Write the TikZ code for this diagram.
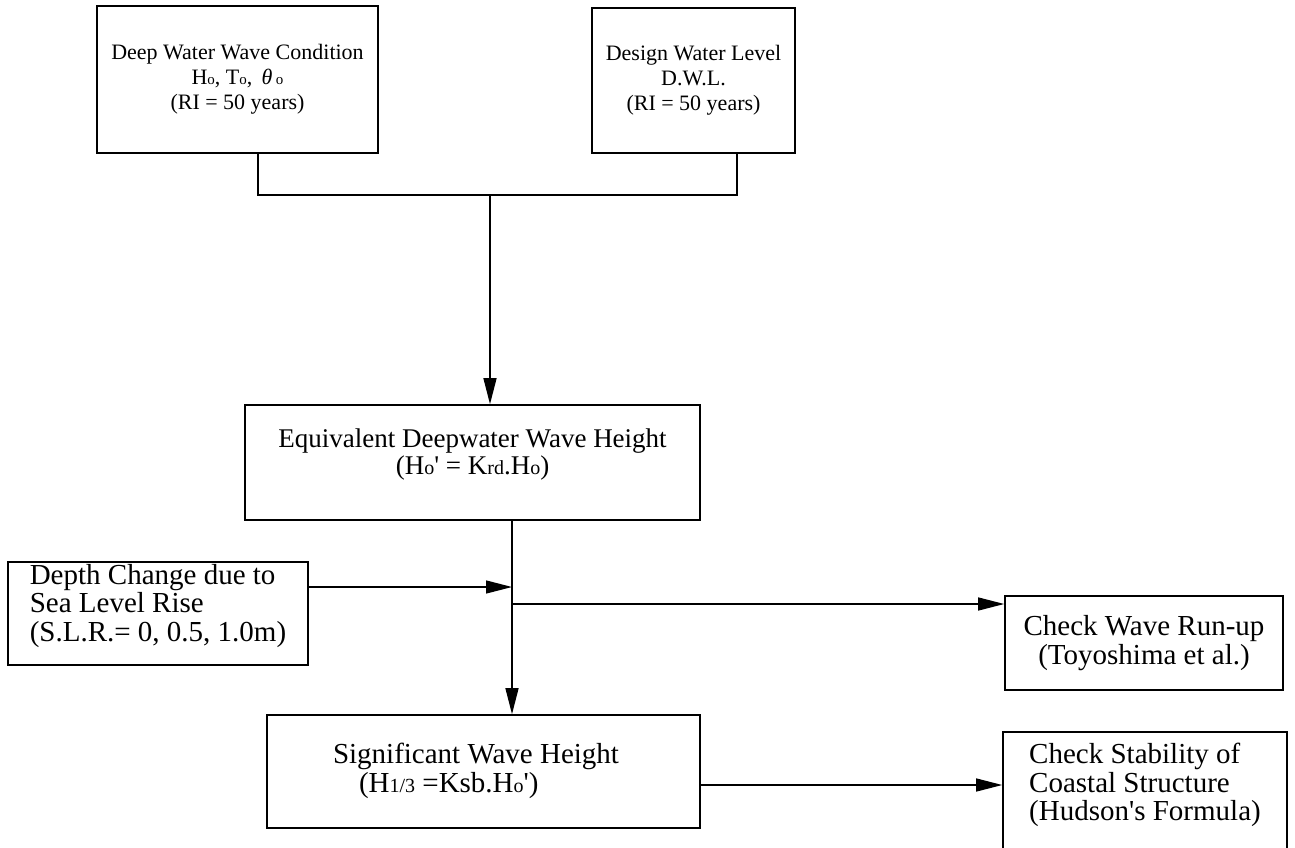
\documentclass[tikz,border=0pt]{standalone}
\usepackage{fontspec}
\setmainfont{Liberation Serif}[Ligatures=TeXOff]
\usetikzlibrary{arrows.meta,calc}
\newcommand\smt[1]{{\fontsize{15}{15}\selectfont #1}}
\newcommand\smb[1]{{\fontsize{20}{20}\selectfont #1}}
\begin{document}
\begin{tikzpicture}[x=1pt,y=-1pt,
  box/.style={draw,line width=1.6pt,rectangle,inner sep=0pt,align=center},
  txt/.style={inner sep=0pt},
  topfont/.style={font=\fontsize{22}{25}\selectfont},
  lowfont/.style={font=\fontsize{29}{28.5}\selectfont},
  conn/.style={line width=1.3pt},
  arr/.style={conn,-{Triangle[length=26pt,width=13pt]}}]
\useasboundingbox (0,0) rectangle (1295,848);
\clip (0,0) rectangle (1295,848);
\node[box,topfont,minimum width=281pt,minimum height=147pt] (b1) at (237.5,79.5)
  {Deep Water Wave Condition\\ H\smt{o}, T\smt{o}, \,{\itshape θ}\,\smt{o}\\ (RI = 50 years)};
\node[box,topfont,minimum width=203pt,minimum height=145pt] (b2) at (693.5,80.5)
  {Design Water Level\\ D.W.L.\\ (RI = 50 years)};
\node[box,minimum width=455pt,minimum height=115pt] (b3) at (472.5,462.5) {};
\node[txt,align=center,font=\fontsize{27}{27}\selectfont] (t3) at (472.5,455)
  {Equivalent Deepwater Wave Height\\ (H\smb{o}' = K\smb{rd}.H\smb{o})};
\node[box,minimum width=300pt,minimum height=103pt] (b4) at (158,613.5) {};
\node[txt,lowfont,align=left] (t4) at (158,606)
  {Depth Change due to\\ Sea Level Rise\\ (S.L.R.= 0, 0.5, 1.0m)};
\node[box,minimum width=433pt,minimum height=113pt] (b5) at (483.5,771.5) {};
\node[txt,lowfont,align=left] (t5) at (476,771)
  {Significant Wave Height\\ \hspace*{26pt}(H\smb{1/3} =Ksb.H\smb{o}')};
\node[box,lowfont,minimum width=278pt,minimum height=94pt] (b6) at (1144,643)
  {Check Wave Run-up\\ (Toyoshima et al.)};
\node[box,minimum width=284pt,minimum height=160pt,anchor=north] (b7) at (1145,731) {};
\node[txt,lowfont,align=left,anchor=north] (t7) at ($(b7.north)+(0,12)$)
  {Check Stability of\\ Coastal Structure\\ (Hudson's Formula)};
% top junction
\coordinate (j1) at (258,195);
\coordinate (j2) at (737,195);
\coordinate (j) at (490,195);
\draw[conn] ($(b1.south)+(20.5,0)$) -- (j1) -- (j2) -- ($(b2.south)+(43.5,0)$);
\draw[arr] (j) -- (j |- b3.north);
% middle
\coordinate (m) at (512,587);
\coordinate (m2) at (512,604);
\draw[conn] ($(b3.south)+(39.5,0)$) -- (m);
\draw[arr] (b4.east |- m) -- (m);
\draw[arr] (m) -- (m |- b5.north);
\draw[arr] (m2) -- (m2 -| b6.west);
\draw[arr] (b5.east |- 0,785) -- (b7.west |- 0,785);
\end{tikzpicture}
\end{document}
